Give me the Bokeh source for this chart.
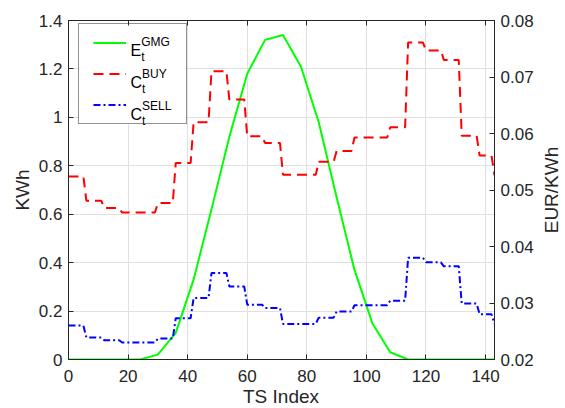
import math
import numpy as np
from bokeh.plotting import figure
from bokeh.layouts import row, column
from bokeh.models import (Range1d, LinearAxis, FixedTicker, CustomJSTickFormatter,
                          Legend, LegendItem, Label, BoxAnnotation, Div)
from bokeh.embed import file_html
from bokeh.resources import INLINE

# ---------------- data ----------------
ts_hourly = [0, 6, 12, 18, 24, 30, 36, 42, 48, 54, 60, 66, 72, 78, 84, 90,
             96, 102, 108, 114, 120, 126, 132, 138, 143]
e_gmg = [0, 0, 0, 0, 0, 0.02, 0.11, 0.33, 0.62, 0.92, 1.18, 1.32, 1.34, 1.21,
         0.98, 0.67, 0.37, 0.15, 0.03, 0, 0, 0, 0, 0, 0]

c_buy_hourly = [0.0524, 0.0481, 0.0468, 0.0460, 0.0460, 0.0477, 0.0548, 0.0620,
                0.0710, 0.0660, 0.0595, 0.0583, 0.0527, 0.0527, 0.0550, 0.0569,
                0.0593, 0.0593, 0.0611, 0.0761, 0.0747, 0.0730, 0.0596, 0.0561]
c_buy_last = 0.0526
c_sell_hourly = [0.0260, 0.0239, 0.0234, 0.0230, 0.0230, 0.0237, 0.0273, 0.0309,
                 0.0353, 0.0329, 0.0297, 0.0291, 0.0263, 0.0263, 0.0274, 0.0285,
                 0.0296, 0.0296, 0.0304, 0.0380, 0.0372, 0.0365, 0.0299, 0.0280]
c_sell_last = 0.0263

x_ticks = [0, 20, 40, 60, 80, 100, 120, 140]
left_ticks = [0, 0.2, 0.4, 0.6, 0.8, 1.0, 1.2, 1.4]
right_ticks = [0.02, 0.03, 0.04, 0.05, 0.06, 0.07, 0.08]

ts = np.arange(144)
c_buy = np.repeat(c_buy_hourly, 6)
c_buy[-1] = c_buy_last
c_sell = np.repeat(c_sell_hourly, 6)
c_sell[-1] = c_sell_last

# ---------------- figure ----------------
FONT = "Liberation Sans"
AX = "#262626"
GRID = "#e0e0e0"

p = figure(width=537, height=392, x_range=Range1d(0, 143), y_range=Range1d(0, 1.4),
           output_backend="svg", toolbar_location=None,
           min_border_left=68, min_border_right=43, min_border_top=20, min_border_bottom=33)
p.extra_y_ranges = {"eur": Range1d(0.02, 0.08)}
p.outline_line_color = AX
p.outline_line_width = 1
p.background_fill_color = "white"
p.border_fill_color = "white"


def style_axis(ax, ticks):
    ax.ticker = FixedTicker(ticks=ticks)
    ax.major_tick_in = 5
    ax.major_tick_out = 0
    ax.minor_tick_line_color = None
    ax.axis_line_color = AX
    ax.major_tick_line_color = AX
    ax.major_label_text_color = AX
    ax.major_label_text_font = FONT
    ax.major_label_text_font_size = "17px"
    ax.axis_label_text_font = FONT
    ax.axis_label_text_font_size = "19px"
    ax.axis_label_text_font_style = "normal"
    ax.axis_label_text_color = AX


xa = p.xaxis[0]
style_axis(xa, x_ticks)
xa.major_label_standoff = 10

ya = p.yaxis[0]
style_axis(ya, left_ticks)
ya.major_label_standoff = 6
ya.formatter = CustomJSTickFormatter(code="return tick.toFixed(1).replace(/\\.0$/, '');")
ya.axis_label = "KWh"
ya.axis_label_standoff = 3

yr = LinearAxis(y_range_name="eur")
style_axis(yr, right_ticks)
yr.major_label_standoff = 6
yr.formatter = CustomJSTickFormatter(code="return tick.toFixed(2);")
p.add_layout(yr, "right")

xt = LinearAxis()
style_axis(xt, x_ticks)
xt.major_label_text_font_size = "0px"
xt.major_label_standoff = 0
xt.formatter = CustomJSTickFormatter(code="return '';")
p.add_layout(xt, "above")

p.xgrid.ticker = FixedTicker(ticks=x_ticks)
p.ygrid.ticker = FixedTicker(ticks=left_ticks)
p.xgrid.grid_line_color = GRID
p.ygrid.grid_line_color = GRID

# white backing for the legend box (hides grid lines)
p.add_layout(BoxAnnotation(left=10, right=117, bottom=235, top=334,
                           left_units="screen", right_units="screen",
                           bottom_units="screen", top_units="screen",
                           fill_color="white", fill_alpha=1.0, line_color=None,
                           level="underlay"))

# ---------------- data lines ----------------
r_e = p.line(ts_hourly, e_gmg, line_color="#00ff00", line_width=2)
r_b = p.line(ts, c_buy, line_color="#ff0000", line_width=2, line_dash="10 6",
             y_range_name="eur")
r_s = p.line(ts, c_sell, line_color="#0000ff", line_width=2, line_dash="7 3 2 3",
             y_range_name="eur")

# ---------------- legend ----------------
legend = Legend(items=[LegendItem(label=" ", renderers=[r_e]),
                       LegendItem(label=" ", renderers=[r_b]),
                       LegendItem(label=" ", renderers=[r_s])],
                location=(10, 235), margin=0, padding=14, spacing=22,
                glyph_width=33, glyph_height=9, label_height=9, label_width=40,
                label_standoff=6, label_text_font_size="6px",
                border_line_color=AX, border_line_width=1,
                background_fill_alpha=0.0)
p.add_layout(legend, "center")

# legend texts (main symbol, subscript, superscript)
leg_main = ["E", "C", "C"]
leg_sup = ["GMG", "BUY", "SELL"]
leg_sub = ["t", "t", "t"]
base_y = [309, 277, 245]
main_w = [10.7, 11.6, 11.6]
for m, sp, sb, by, w in zip(leg_main, leg_sup, leg_sub, base_y, main_w):
    p.add_layout(Label(x=62, y=by, x_units="screen", y_units="screen", text=m,
                       text_font=FONT, text_font_size="16px", text_color="black",
                       text_baseline="alphabetic", level="overlay"))
    p.add_layout(Label(x=62 + w, y=by - 6, x_units="screen", y_units="screen", text=sb,
                       text_font=FONT, text_font_size="12px", text_color="black",
                       text_baseline="alphabetic", level="overlay"))
    p.add_layout(Label(x=62 + w, y=by + 9, x_units="screen", y_units="screen", text=sp,
                       text_font=FONT, text_font_size="12px", text_color="black",
                       text_baseline="alphabetic", level="overlay"))

# right axis title (reads bottom to top, as in the reference)
right_title = Div(
    text=("<div style=\"position:relative;width:28px;height:392px;\">"
          "<span style=\"position:absolute;left:14px;top:189.5px;"
          "transform:translate(-50%,-50%) rotate(-90deg);white-space:nowrap;"
          "font-family:'Liberation Sans';font-size:19px;line-height:1;color:#262626;\">"
          "EUR/KWh</span></div>"),
    width=28, height=392, margin=(0, 0, 0, 0))

# x axis title
bottom_title = Div(
    text=("<div style=\"position:relative;width:565px;height:16px;\">"
          "<span style=\"position:absolute;left:281px;top:-2.6px;"
          "transform:translateX(-50%);white-space:nowrap;"
          "font-family:'Liberation Sans';font-size:19px;line-height:16px;color:#262626;\">"
          "TS Index</span></div>"),
    width=565, height=16, margin=(0, 0, 0, 0))

layout = column(row(p, right_title, spacing=0), bottom_title, spacing=0)
open("out.html", "w").write(file_html(layout, INLINE))
